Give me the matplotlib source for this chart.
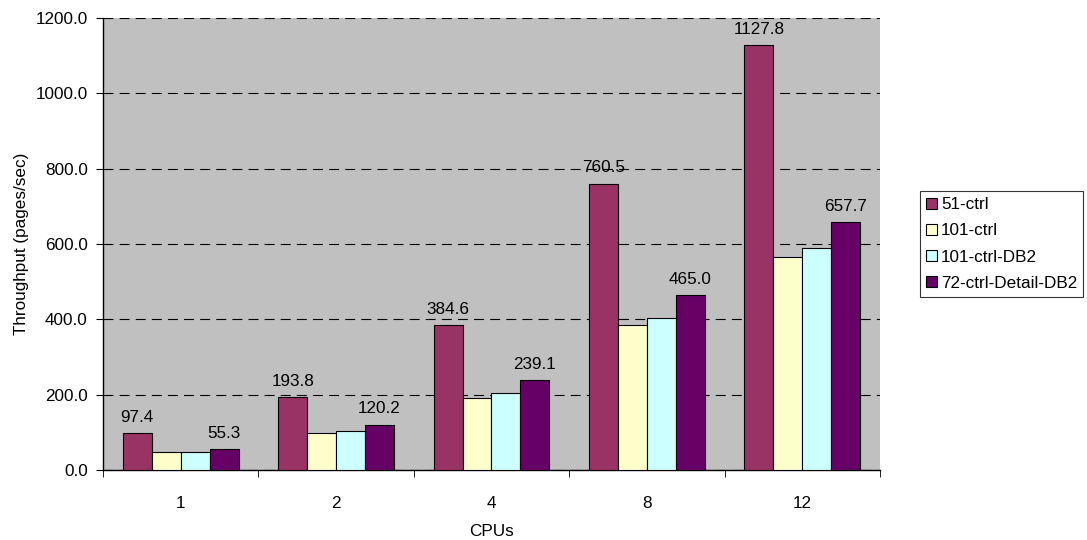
import numpy as np
import matplotlib.pyplot as plt

plt.rcParams['font.family'] = ['Liberation Sans', 'DejaVu Sans']

cpus = ['1', '2', '4', '8', '12']
series_names = ['51-ctrl', '101-ctrl', '101-ctrl-DB2', '72-ctrl-Detail-DB2']
ctrl_51 = [97.4, 193.8, 384.6, 760.5, 1127.8]
ctrl_101 = [48.0, 97.0, 192.0, 385.0, 566.0]
ctrl_101_db2 = [48.5, 103.0, 204.0, 403.0, 590.0]
ctrl_72_detail_db2 = [55.3, 120.2, 239.1, 465.0, 657.7]
labelled = [True, False, False, True]

colors = ['#993366', '#FFFFCC', '#CCFFFF', '#660066']
all_series = [ctrl_51, ctrl_101, ctrl_101_db2, ctrl_72_detail_db2]
fs = 12.3

fig = plt.figure(figsize=(10.87, 5.40), dpi=100)
ax = fig.add_axes([103 / 1087, 70 / 540, 777 / 1087, 452 / 540])
ax.set_facecolor('#C0C0C0')

x = np.arange(len(cpus))
width = 0.186
for i, (name, vals) in enumerate(zip(series_names, all_series)):
    pos = x + (i - 1.5) * width
    bars = ax.bar(pos, vals, width, color=colors[i], edgecolor='black',
                  linewidth=0.8, label=name, zorder=3)
    if labelled[i]:
        for b, v in zip(bars, vals):
            ax.annotate(f'{v:.1f}', (b.get_x() + b.get_width() / 2, v),
                        xytext=(0, 6), textcoords='offset points',
                        ha='center', va='bottom', fontsize=fs, zorder=4)

ax.set_xlim(-0.5, len(cpus) - 0.5)
ax.set_ylim(0, 1200)
ax.set_yticks(np.arange(0, 1201, 200))
ax.set_yticklabels([f'{v:.1f}' for v in np.arange(0, 1201, 200)], fontsize=fs)
ax.yaxis.grid(True, color='black', linestyle=(0, (9, 5.5)), linewidth=0.8, zorder=1)

# category labels in the middle, tick marks on the group boundaries
ax.set_xticks(x)
ax.set_xticklabels(cpus, fontsize=fs)
ax.tick_params(axis='x', length=0, pad=19)
ax.set_xticks(np.arange(-0.5, len(cpus)), minor=True)
ax.tick_params(axis='x', which='minor', length=5, direction='out')
ax.tick_params(axis='y', length=5, direction='out', pad=6)

for s in ['top', 'right']:
    ax.spines[s].set_visible(False)
ax.spines['left'].set_linewidth(1)
ax.spines['bottom'].set_linewidth(1)

ax.set_xlabel('CPUs', fontsize=fs, labelpad=9)
ax.set_ylabel('Throughput (pages/sec)', fontsize=fs, labelpad=5)

leg = ax.legend(loc='center left', bbox_to_anchor=(1.052, 0.5), fontsize=fs,
                frameon=True, fancybox=False, edgecolor='black',
                handlelength=0.6, handleheight=0.6, handletextpad=0.25,
                borderpad=0.35, labelspacing=0.65, borderaxespad=0)
leg.get_frame().set_linewidth(0.8)

fig.savefig('out.png', dpi=100)
